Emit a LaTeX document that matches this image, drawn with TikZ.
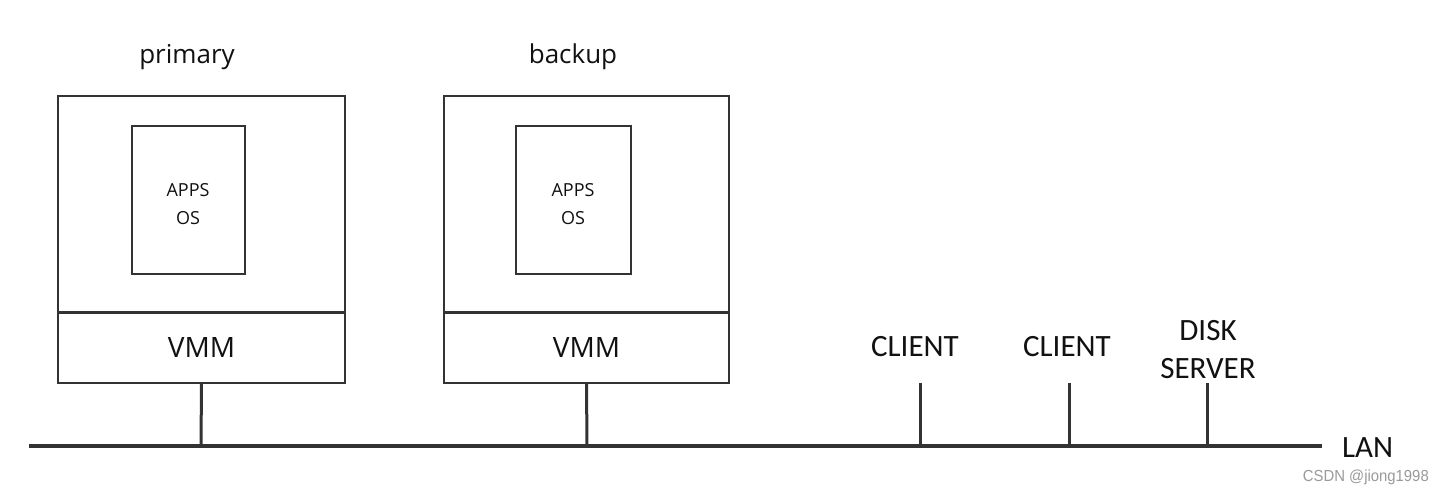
\documentclass[tikz,border=0pt]{standalone}
\usepackage{fontspec}
\setmainfont{Open Sans}
\newfontfamily\carl{Carlito}
\newfontfamily\wmfont{Liberation Sans}
\definecolor{linec}{HTML}{333333}
\definecolor{txtc}{HTML}{111111}
\definecolor{wmc}{HTML}{9A9A9A}
\begin{document}
\begin{tikzpicture}[x=1pt,y=-1pt,
  upper/.style={draw=linec, line width=1.6pt, inner sep=0pt, minimum width=287pt, minimum height=216pt},
  vmmbox/.style={draw=linec, line width=1.6pt, inner sep=0pt, minimum width=287pt, minimum height=70pt, font=\fontsize{28}{30}\selectfont, text=txtc},
  inner/.style={draw=linec, line width=1.6pt, inner sep=0pt, minimum height=148pt},
  innertxt/.style={inner sep=0pt, align=center, font=\fontsize{18}{28}\selectfont, text=txtc},
  title/.style={font=\fontsize{26}{30}\selectfont, text=txtc, inner sep=0pt},
  lbl/.style={font=\carl\fontsize{31}{22}\selectfont, text=txtc, inner sep=0pt, align=center},
  drop/.style={draw=linec, line width=3pt},
  lan/.style={draw=linec, line width=3.6pt}
]
\useasboundingbox (0,0) rectangle (1444,494);
\fill[white] (0,0) rectangle (1444,494);

% primary
\node[upper] (pu) at (201.5,204) {};
\node[vmmbox] (pv) at (201.5,348) {VMM};
\node[inner, minimum width=113pt] (pi) at (188.5,200) {};
\node[innertxt] (pit) at (188,204) {APPS\\OS};
\node[title] (pt) at (187,57) {primary};

% backup
\node[upper, minimum width=285pt] (bu) at (586.5,204) {};
\node[vmmbox, minimum width=285pt] (bv) at (586.5,348) {VMM};
\node[inner, minimum width=115pt] (bi) at (573.5,200) {};
\node[innertxt] (bit) at (573,204) {APPS\\OS};
\node[title] (bt) at (573,57) {backup};

% LAN
\coordinate (lanL) at (29,446);
\coordinate (lanR) at (1322,446);
\draw[lan] (lanL) -- (lanR);
\node[lbl, anchor=west] (lanT) at (1342,448) {LAN};

\coordinate (pj) at (201,446);
\coordinate (bj) at (587,446);
\draw[drop] (pv.south) -- (pj);
\draw[drop] (bv.south) -- (bj);

% clients
\node[lbl] (c1) at (915,347) {CLIENT};
\node[lbl] (c2) at (1067,347) {CLIENT};
\node[lbl, font=\carl\fontsize{31}{38}\selectfont] (ds) at (1208,350) {DISK\\SERVER};
\coordinate (c1t) at (920,383);
\coordinate (c2t) at (1069,383);
\coordinate (dst) at (1207,383);
\coordinate (c1j) at (920,446);
\coordinate (c2j) at (1069,446);
\coordinate (dsj) at (1207,446);
\draw[drop] (c1t) -- (c1j);
\draw[drop] (c2t) -- (c2j);
\draw[drop] (dst) -- (dsj);

% watermark
\node[font=\wmfont\fontsize{16}{18}\selectfont, text=wmc, inner sep=0pt, anchor=east, xscale=0.93] (wm) at (1429,477) {CSDN @jiong1998};
\end{tikzpicture}
\end{document}
